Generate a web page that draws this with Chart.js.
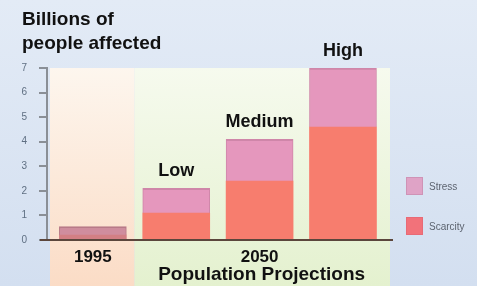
<!DOCTYPE html>
<html>
<head>
<meta charset="utf-8">
<script src="https://cdn.jsdelivr.net/npm/chart.js@4.4.1/dist/chart.umd.min.js"></script>
<style>
  html, body { margin: 0; padding: 0; background: #dde6f3; }
  #wrap { width: 477px; height: 286px; }
</style>
</head>
<body>
<div id="wrap"><canvas id="chart" width="477" height="286"></canvas></div>
<script>
// 数据
const categories = ['1995', 'Low', 'Medium', 'High'];
const barLabels = ['', 'Low', 'Medium', 'High'];
const scarcity = [0.2, 1.1, 2.4, 4.6];
const stress = [0.35, 1.0, 1.7, 2.4];
const yTicks = [0, 1, 2, 3, 4, 5, 6, 7];
const axisLabels = ['1995', '2050'];
const axisLabelIndex = [0, 2];

// 背景、标签、图例
const decor = {
  id: 'decor',
  beforeDraw(chart) {
    const c = chart.ctx;
    const y = chart.scales.y;
    const x = chart.scales.x;
    let g = c.createLinearGradient(0, 0, 0, 286);
    g.addColorStop(0, '#e3ebf6');
    g.addColorStop(1, '#d3dff0');
    c.fillStyle = g;
    c.fillRect(0, 0, 477, 286);
    const top = y.getPixelForValue(7);
    const split = (x.getPixelForValue(0) + x.getPixelForValue(1)) / 2;
    // 左侧面板
    g = c.createLinearGradient(0, top, 0, 286);
    g.addColorStop(0, '#fdf6ee');
    g.addColorStop(1, '#fbdcc6');
    c.fillStyle = g;
    c.fillRect(50, top, split - 50, 286 - top);
    // 右侧面板
    g = c.createLinearGradient(0, top, 0, 286);
    g.addColorStop(0, '#f6faee');
    g.addColorStop(1, '#e4f1cf');
    c.fillStyle = g;
    c.fillRect(split, top, 390 - split, 286 - top);
  },
  afterDraw(chart) {
    const c = chart.ctx;
    const x = chart.scales.x;
    const y = chart.scales.y;
    // 基线
    c.strokeStyle = '#5b463c';
    c.lineWidth = 2;
    c.beginPath();
    c.moveTo(40, y.getPixelForValue(0));
    c.lineTo(393, y.getPixelForValue(0));
    c.stroke();
    // 柱顶标签
    c.fillStyle = '#111';
    c.font = 'bold 18px "Liberation Sans", Arial, sans-serif';
    c.textAlign = 'center';
    c.textBaseline = 'middle';
    categories.forEach(function(cat, i) {
      if (!barLabels[i]) return;
      const total = scarcity[i] + stress[i];
      c.fillText(barLabels[i], x.getPixelForValue(i), y.getPixelForValue(total) - 17);
    });
    // x 轴标签
    c.font = 'bold 17px "Liberation Sans", Arial, sans-serif';
    axisLabels.forEach(function(lab, k) {
      c.fillText(lab, x.getPixelForValue(axisLabelIndex[k]), 257);
    });
    c.font = 'bold 19px "Liberation Sans", Arial, sans-serif';
    c.fillText('Population Projections', x.getPixelForValue(2) + 2, 275);
    // 标题
    c.textAlign = 'left';
    c.font = 'bold 19px "Liberation Sans", Arial, sans-serif';
    c.fillText('Billions of', 22, 20);
    c.fillText('people affected', 22, 44);
    // 图例
    const items = chart.data.datasets.slice().reverse();
    items.forEach(function(ds, k) {
      const yy = 186 + k * 40;
      c.fillStyle = ds.legendColor;
      c.fillRect(406, yy - 9, 17, 18);
      c.strokeStyle = ds.legendBorder;
      c.lineWidth = 1;
      c.strokeRect(406.5, yy - 8.5, 16, 17);
      c.fillStyle = '#5d6470';
      c.font = '10px "Liberation Sans", Arial, sans-serif';
      c.fillText(ds.label, 429, yy + 1);
    });
  }
};

new Chart(document.getElementById('chart'), {
  type: 'bar',
  data: {
    datasets: [
      {
        label: 'Scarcity',
        data: scarcity.map(function(v, i) { return { x: i, y: v }; }),
        backgroundColor: function(ctx) { return ctx.dataIndex === 0 ? '#d27f84' : '#f77d6e'; },
        legendColor: '#f2727a',
        legendBorder: '#e86a76',
        borderWidth: 0,
        barThickness: 67
      },
      {
        label: 'Stress',
        data: stress.map(function(v, i) { return { x: i, y: v }; }),
        backgroundColor: function(ctx) { return ctx.dataIndex === 0 ? '#cf8d9e' : '#e597bd'; },
        borderColor: function(ctx) { return ctx.dataIndex === 0 ? '#b87a88' : '#cf86a9'; },
        borderWidth: { top: 2, left: 1, right: 1, bottom: 0 },
        borderSkipped: false,
        legendColor: '#dfa3c6',
        legendBorder: '#cf93b6',
        barThickness: 67
      }
    ]
  },
  options: {
    responsive: false,
    animation: false,
    layout: { padding: { top: 68, right: 84, bottom: 46, left: 0 } },
    plugins: { legend: { display: false }, tooltip: { enabled: false } },
    scales: {
      x: {
        type: 'linear',
        stacked: true,
        offset: false,
        min: -0.55,
        max: 3.6,
        display: false
      },
      y: {
        stacked: true,
        min: 0,
        max: 7,
        afterFit: function(scale) { scale.width = 47; },
        afterBuildTicks: function(scale) { scale.ticks = yTicks.map(function(v) { return { value: v }; }); },
        border: { display: true, color: '#8a8f96', width: 2 },
        grid: { drawOnChartArea: false, drawTicks: true, tickLength: 8, color: '#8a8f96', lineWidth: 2 },
        ticks: { padding: 12, color: '#5f6f82', font: { size: 10, family: '"Liberation Sans", Arial, sans-serif' } }
      }
    }
  },
  plugins: [decor]
});
</script>
</body>
</html>
